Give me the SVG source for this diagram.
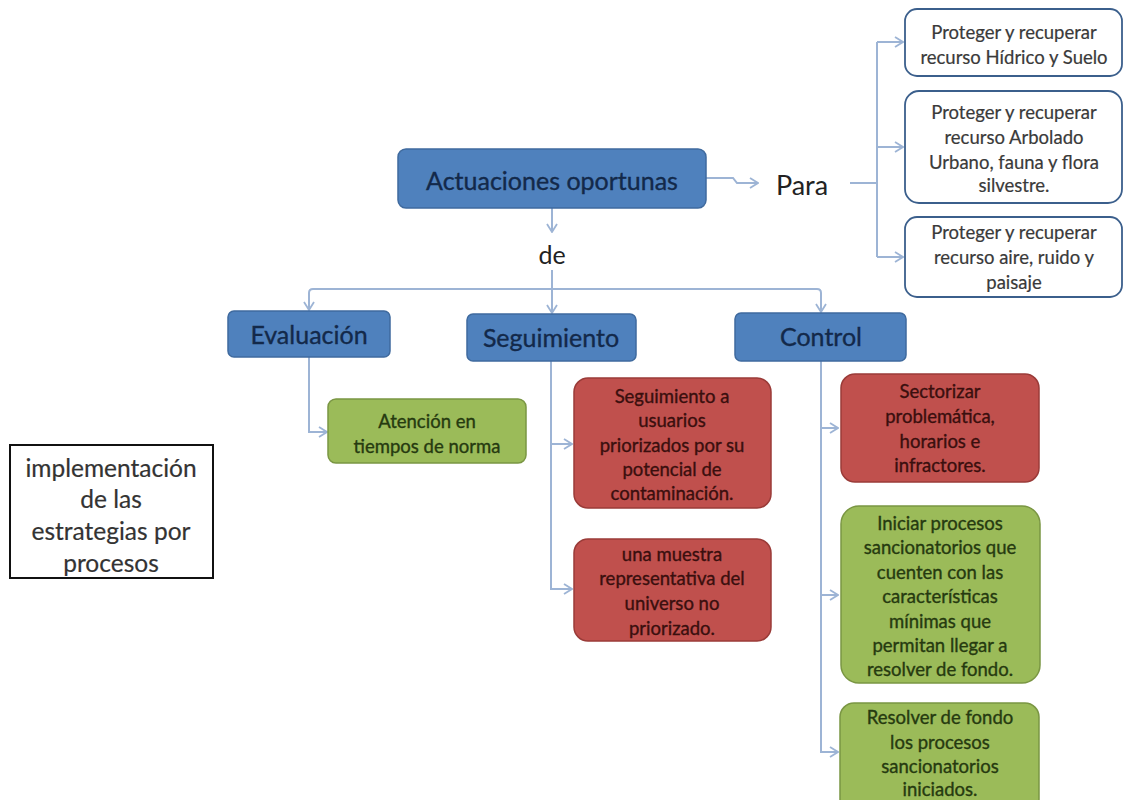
<svg xmlns="http://www.w3.org/2000/svg" width="1126" height="800" viewBox="0 0 1126 800">
<style>
text{font-family:Lato,"Liberation Sans",sans-serif;text-anchor:middle;dominant-baseline:central;stroke-width:0.35px}
.blue{fill:#4F81BD;stroke:#3F6A9E;stroke-width:1.5}
.red{fill:#C0504D;stroke:#9A3B38;stroke-width:1.5}
.green{fill:#9BBB59;stroke:#7A9643;stroke-width:1.5}
.white{fill:#FFFFFF;stroke:#3B5F8C;stroke-width:1.8}
.tb{fill:#13294A;stroke:#13294A;font-size:25px}
.tr{fill:#3A0F0E;stroke:#3A0F0E;font-size:18.5px}
.tg{fill:#263A10;stroke:#263A10;font-size:18.5px}
.tw{fill:#3A3A3A;stroke:#3A3A3A;font-size:18.5px;stroke-width:0.2px}
.lbl{fill:#222;font-size:25px}
.lb{fill:#333;stroke:#333;font-size:24.5px;stroke-width:0.2px}
.conn path{fill:none;stroke:#9DB4D5;stroke-width:2}
</style>
<defs>
<marker id="ar" markerWidth="10" markerHeight="12" refX="9" refY="6" orient="auto" markerUnits="userSpaceOnUse">
<path d="M1,1 L9,6 L1,11" fill="none" stroke="#9DB4D5" stroke-width="1.8"/>
</marker>
</defs>
<rect width="1126" height="800" fill="#FFFFFF"/>
<g class="conn" id="connectors">
<path d="M706,178 H733 L737,183 H758" marker-end="url(#ar)"/>
<path d="M850,183 H877"/>
<path d="M877,42 V257"/>
<path d="M877,42 H903" marker-end="url(#ar)"/>
<path d="M877,147 H903" marker-end="url(#ar)"/>
<path d="M877,257 H903" marker-end="url(#ar)"/>
<path d="M552,208 V232" marker-end="url(#ar)"/>
<path d="M552,270 V313" marker-end="url(#ar)"/>
<path d="M552,289 H313 Q309,289 309,293 V310" marker-end="url(#ar)"/>
<path d="M552,289 H817 Q821,289 821,293 V312" marker-end="url(#ar)"/>
<path d="M309,357 V432 H327" marker-end="url(#ar)"/>
<path d="M551,361 V589 H572" marker-end="url(#ar)"/>
<path d="M551,444 H572" marker-end="url(#ar)"/>
<path d="M821,361 V752 H838" marker-end="url(#ar)"/>
<path d="M821,428 H838" marker-end="url(#ar)"/>
<path d="M821,595 H838" marker-end="url(#ar)"/>
</g>
<g id="actuaciones">
<rect class="blue" x="398" y="149" width="308" height="59" rx="8"/>
<text class="tb" x="552" y="180">Actuaciones oportunas</text>
</g>
<g id="para">
<text class="lbl" x="802" y="184" style="font-size:27px">Para</text>
</g>
<g id="de">
<text class="lbl" x="552" y="254">de</text>
</g>
<g id="hidrico">
<rect class="white" x="905" y="9" width="217" height="67" rx="12"/>
<text class="tw" x="1014" y="32">Proteger y recuperar</text>
<text class="tw" x="1014" y="57">recurso Hídrico y Suelo</text>
</g>
<g id="arbolado">
<rect class="white" x="905" y="91" width="217" height="112" rx="14"/>
<text class="tw" x="1014" y="112">Proteger y recuperar</text>
<text class="tw" x="1014" y="137">recurso Arbolado</text>
<text class="tw" x="1014" y="162">Urbano, fauna y flora</text>
<text class="tw" x="1014" y="185">silvestre.</text>
</g>
<g id="aire">
<rect class="white" x="905" y="217" width="217" height="80" rx="12"/>
<text class="tw" x="1014" y="232">Proteger y recuperar</text>
<text class="tw" x="1014" y="257">recurso aire, ruido y</text>
<text class="tw" x="1014" y="282">paisaje</text>
</g>
<g id="evaluacion">
<rect class="blue" x="228" y="311" width="162" height="46" rx="6"/>
<text class="tb" x="309" y="334">Evaluación</text>
</g>
<g id="seguimiento">
<rect class="blue" x="467" y="314" width="169" height="47" rx="6"/>
<text class="tb" x="551" y="337">Seguimiento</text>
</g>
<g id="control">
<rect class="blue" x="735" y="313" width="171" height="48" rx="6"/>
<text class="tb" x="821" y="336">Control</text>
</g>
<g id="atencion">
<rect class="green" x="328" y="399" width="198" height="64" rx="8"/>
<text class="tg" x="427" y="421">Atención en</text>
<text class="tg" x="427" y="446">tiempos de norma</text>
</g>
<g id="usuarios">
<rect class="red" x="574" y="378" width="197" height="130" rx="14"/>
<text class="tr" x="672" y="396">Seguimiento a</text>
<text class="tr" x="672" y="420">usuarios</text>
<text class="tr" x="672" y="445">priorizados por su</text>
<text class="tr" x="672" y="469">potencial de</text>
<text class="tr" x="672" y="493">contaminación.</text>
</g>
<g id="muestra">
<rect class="red" x="574" y="539" width="197" height="102" rx="14"/>
<text class="tr" x="672" y="554">una muestra</text>
<text class="tr" x="672" y="578">representativa del</text>
<text class="tr" x="672" y="603">universo no</text>
<text class="tr" x="672" y="628">priorizado.</text>
</g>
<g id="sectorizar">
<rect class="red" x="841" y="374" width="198" height="108" rx="14"/>
<text class="tr" x="940" y="391">Sectorizar</text>
<text class="tr" x="940" y="416">problemática,</text>
<text class="tr" x="940" y="441">horarios e</text>
<text class="tr" x="940" y="465">infractores.</text>
</g>
<g id="iniciar">
<rect class="green" x="841" y="506" width="199" height="177" rx="18"/>
<text class="tg" x="940" y="523">Iniciar procesos</text>
<text class="tg" x="940" y="547">sancionatorios que</text>
<text class="tg" x="940" y="572">cuenten con las</text>
<text class="tg" x="940" y="596">características</text>
<text class="tg" x="940" y="621">mínimas que</text>
<text class="tg" x="940" y="645">permitan llegar a</text>
<text class="tg" x="940" y="669">resolver de fondo.</text>
</g>
<g id="resolver">
<rect class="green" x="840" y="703" width="199" height="110" rx="14"/>
<text class="tg" x="940" y="717">Resolver de fondo</text>
<text class="tg" x="940" y="742">los procesos</text>
<text class="tg" x="940" y="766">sancionatorios</text>
<text class="tg" x="940" y="789">iniciados.</text>
</g>
<g id="implementacion">
<rect x="10" y="445" width="203" height="133" fill="#FFFFFF" stroke="#111" stroke-width="2"/>
<text class="lb" x="111" y="467">implementación</text>
<text class="lb" x="111" y="498">de las</text>
<text class="lb" x="111" y="530">estrategias por</text>
<text class="lb" x="111" y="562">procesos</text>
</g>
</svg>
